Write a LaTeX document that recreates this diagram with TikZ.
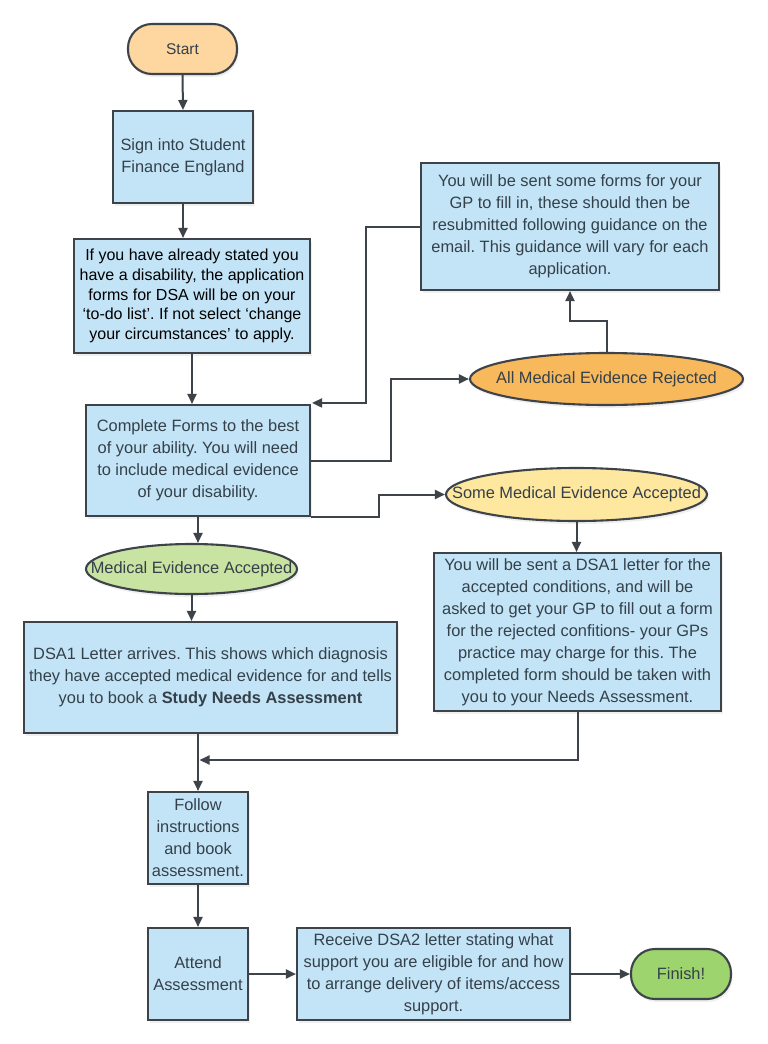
\documentclass[tikz,border=0pt]{standalone}
\usepackage{fontspec}
\setmainfont{Liberation Sans}
\frenchspacing
\usetikzlibrary{arrows.meta,shapes.geometric,shadows}
\definecolor{boxfill}{HTML}{C3E4F6}
\definecolor{edge}{HTML}{3D4349}
\definecolor{txt}{HTML}{34404A}
\definecolor{peach}{HTML}{FDD6A0}
\definecolor{orng}{HTML}{F8B85C}
\definecolor{ylw}{HTML}{FEE79F}
\definecolor{lgreen}{HTML}{C8E3A2}
\definecolor{fgreen}{HTML}{9DD46D}
\tikzset{
  base/.style={draw=edge, line width=2.1pt, text=txt, align=center, inner sep=0pt,
    font=\fontsize{16.4}{22}\selectfont,
    drop shadow={opacity=0.12, shadow xshift=1.5pt, shadow yshift=-3pt}},
  stepbox/.style={base, rectangle, fill=boxfill},
  pill/.style={base, rectangle, rounded corners=24pt},
  oval/.style={base, ellipse},
  ovaltext/.style={text=txt, inner sep=0pt, font=\fontsize{16.4}{22}\selectfont},
  conn/.style={draw=edge, line width=2pt, -{Triangle[length=10pt,width=9pt]}}
}
\begin{document}
\begin{tikzpicture}[x=1pt,y=-1pt]
\useasboundingbox (0,0) rectangle (768,1044);
\fill[white] (0,0) rectangle (768,1044);

\node[pill, fill=peach, minimum width=109pt, minimum height=50pt, font=\fontsize{15.5}{22}\selectfont] (start) at (182.5,49) {Start};
\node[stepbox, minimum width=140pt, minimum height=92pt] (sign) at (183,157) {Sign into Student\\Finance England};
\node[stepbox, minimum width=236pt, minimum height=114pt, text=black, font=\fontsize{16}{19.6}\selectfont] (ifbox) at (192,296)
  {If you have already stated you\\have a disability, the application\\forms for DSA will be on your\\‘to-do list’. If not select ‘change\\your circumstances' to apply.};
\node[stepbox, minimum width=224pt, minimum height=111pt] (comp) at (198,460.5)
  {Complete Forms to the best\\of your ability. You will need\\to include medical evidence\\of your disability.};
\node[stepbox, minimum width=298pt, minimum height=127pt] (gp) at (570,226.5)
  {You will be sent some forms for your\\GP to fill in, these should then be\\resubmitted following guidance on the\\email. This guidance will vary for each\\application.};
\node[oval, fill=orng, minimum width=273pt, minimum height=52pt] (rej) at (606.5,379) {};
\node[ovaltext] (rej-t) at (rej) {All Medical Evidence Rejected};
\node[oval, fill=ylw, minimum width=261pt, minimum height=53pt] (some) at (576.5,494.5) {};
\node[ovaltext] (some-t) at (some) {Some Medical Evidence Accepted};
\node[stepbox, minimum width=287pt, minimum height=158pt] (dsar) at (577.5,632)
  {You will be sent a DSA1 letter for the\\accepted conditions, and will be\\asked to get your GP to fill out a form\\for the rejected confitions- your GPs\\practice may charge for this. The\\completed form should be taken with\\you to your Needs Assessment.};
\node[oval, fill=lgreen, minimum width=211pt, minimum height=50pt] (medacc) at (191.5,569) {};
\node[ovaltext] (medacc-t) at (medacc) {Medical Evidence Accepted};
\node[stepbox, minimum width=373pt, minimum height=111pt] (dsa1) at (210.5,677.5)
  {DSA1 Letter arrives. This shows which diagnosis\\they have accepted medical evidence for and tells\\you to book a \textbf{Study Needs Assessment}};
\node[stepbox, minimum width=100pt, minimum height=92pt] (follow) at (198,838)
  {Follow\\instructions\\and book\\assessment.};
\node[stepbox, minimum width=100pt, minimum height=92pt] (attend) at (198,974)
  {Attend\\Assessment};
\node[stepbox, minimum width=273pt, minimum height=92pt] (recv) at (433.5,974)
  {Receive DSA2 letter stating what\\support you are eligible for and how\\to arrange delivery of items/access\\support.};
\node[pill, fill=fgreen, minimum width=100pt, minimum height=50pt] (finish) at (681,974) {Finish!};

\coordinate (merge) at (199.5,760);

\draw[conn] (start.south) -- (sign.north);
\draw[conn] (sign.south) -- (sign.south |- ifbox.north);
\draw[conn] (ifbox.south) -- (ifbox.south |- comp.north);
\draw[conn] (gp.west) -- ++(-54,0) |- ([xshift=1pt,yshift=1pt]comp.north east);
\draw[conn] (comp.east) -- ++(80,0) |- (rej.west);
\draw[conn] (comp.south east) -- ++(68,0) |- (some.west);
\draw[conn] (rej.north) -- ++(0,-31) -| (gp.south);
\draw[conn] (some.south) -- (some.south |- dsar.north);
\draw[conn] (comp.south) -- (comp.south |- medacc.north);
\draw[conn] (medacc.south) -- (medacc.south |- dsa1.north);
\draw[conn] (follow.north |- dsa1.south) -- (follow.north);
\draw[conn] (dsar.south) |- (merge);
\draw[conn] (follow.south) -- (attend.north);
\draw[conn] (attend.east) -- (recv.west);
\draw[conn] (recv.east) -- (finish.west);
\end{tikzpicture}
\end{document}
